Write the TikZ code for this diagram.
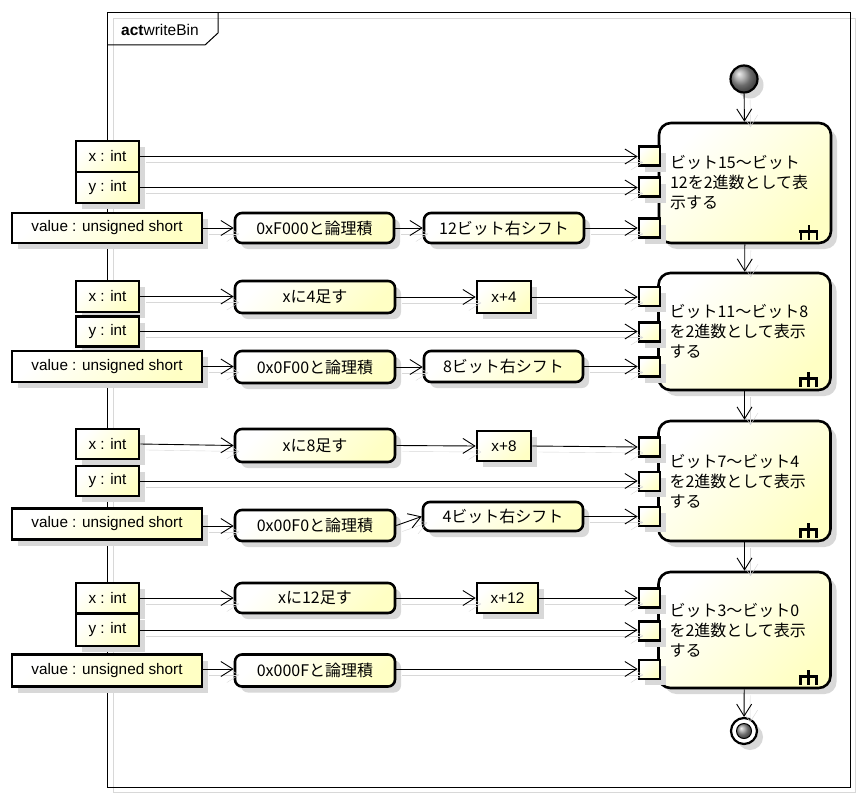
\documentclass[tikz,border=0pt]{standalone}
\usepackage{fontspec}
\setmainfont{Liberation Sans}
\newfontfamily\jp{Noto Sans CJK JP}
\usetikzlibrary{arrows.meta,shadows,calc}
\definecolor{ylw}{RGB}{255,255,196}
\definecolor{shd}{RGB}{216,216,216}
\newcommand{\bigtxt}[2]{\raisebox{#1pt}{\parbox{150pt}{\raggedright #2}}}
\tikzset{
  base/.style={draw=black, line width=2.6pt, top color=white, bottom color=ylw, shading angle=45,
    drop shadow={shadow xshift=6pt, shadow yshift=-6pt, fill=shd, opacity=1}, inner sep=0pt},
  obj/.style={base, rectangle, font=\fontsize{15.3}{17}\selectfont},
  actbox/.style={base, rectangle, rounded corners=7pt, font=\jp\fontsize{16}{18}\selectfont},
  bigact/.style={base, rectangle, rounded corners=12pt, minimum width=172pt, font=\jp\fontsize{16}{20}\selectfont},
  pinbox/.style={base, rectangle, minimum width=21pt, minimum height=19pt},
  flow/.style={line width=0.9pt, -{Straight Barb[length=12pt,width=15pt,line width=0.9pt]},
    preaction={draw=shd, transform canvas={shift={(6,6)}}}},
  rake/.style={line width=2.6pt}
}
\begin{document}
\begin{tikzpicture}[x=1pt,y=-1pt]
\useasboundingbox[fill=white] (0,0) rectangle (864,800);
% frame
\draw[shd, line width=1pt] (113,19) rectangle (855,792);
\draw[line width=1pt] (107,13) rectangle (850,787);
\draw[line width=1pt] (107,45) -- (205,45) -- (218,33) -- (218,13);
\node[anchor=west, inner sep=0pt, font=\fontsize{15.5}{17}\selectfont] (title) at (121,30) {\textbf{act}writeBin};

% initial / final
\node[circle, draw, line width=2.2pt, minimum size=27pt, inner sep=0pt, ball color=gray!80,
  drop shadow={shadow xshift=6pt, shadow yshift=-6pt, fill=shd, opacity=1}] (init) at (744,79) {};
\node[circle, draw, line width=2.2pt, minimum size=26pt, inner sep=0pt, fill=white,
  drop shadow={shadow xshift=6pt, shadow yshift=-6pt, fill=shd, opacity=1}] (fin) at (744,731) {};
\node[circle, draw, line width=1pt, minimum size=15pt, inner sep=0pt, ball color=gray!80] (finin) at (fin) {};

% big actions
\node[bigact, minimum height=120pt] (A1) at (745,183) {\bigtxt{8}{ビット15〜ビット\\12を2進数として表\\示する}};
\node[bigact, minimum height=117pt] (A2) at (744.5,331.5) {\bigtxt{11}{ビット11〜ビット8\\を2進数として表示\\する}};
\node[bigact, minimum height=120pt] (A3) at (744.5,481) {\bigtxt{12}{ビット7〜ビット4\\を2進数として表示\\する}};
\node[bigact, minimum height=116pt] (A4) at (744.5,630) {\bigtxt{11}{ビット3〜ビット0\\を2進数として表示\\する}};
\foreach \A in {A1,A2,A3,A4}{
  \draw[rake] ($(\A.south east)+(-33,-13)$) -- ($(\A.south east)+(-14,-13)$);
  \draw[rake] ($(\A.south east)+(-31.5,-13)$) -- ($(\A.south east)+(-31.5,-4)$);
  \draw[rake] ($(\A.south east)+(-15.5,-13)$) -- ($(\A.south east)+(-15.5,-4)$);
  \draw[rake] ($(\A.south east)+(-23.5,-19)$) -- ($(\A.south east)+(-23.5,-4)$);
}

% pins
\node[pinbox] (p11) at (649.5,156) {};
\node[pinbox] (p12) at (649.5,187) {};
\node[pinbox] (p13) at (649.5,228) {};
\node[pinbox] (p21) at (649.5,296.5) {};
\node[pinbox] (p22) at (649.5,332) {};
\node[pinbox] (p23) at (649.5,367) {};
\node[pinbox] (p31) at (649.5,447) {};
\node[pinbox] (p32) at (649.5,481.5) {};
\node[pinbox] (p33) at (649.5,516.5) {};
\node[pinbox] (p41) at (649.5,598) {};
\node[pinbox] (p42) at (649.5,631) {};
\node[pinbox] (p43) at (649.5,669.5) {};

% row 1
\node[obj, minimum width=63pt, minimum height=31pt] (x1) at (107.5,156.5) {x : int};
\node[obj, minimum width=63pt, minimum height=31pt] (y1) at (107.5,187.5) {y : int};
\node[obj, minimum width=190pt, minimum height=30pt] (v1) at (107,228) {value : unsigned short};
\node[actbox, minimum width=159pt, minimum height=30pt] (a1) at (314.5,228) {0xF000と論理積};
\node[actbox, minimum width=160pt, minimum height=30pt] (s1) at (504,228) {12ビット右シフト};

% row 2
\node[obj, minimum width=63pt, minimum height=31pt] (x2) at (107.5,296.5) {x : int};
\node[obj, minimum width=63pt, minimum height=30pt] (y2) at (107.5,331.5) {y : int};
\node[obj, minimum width=190pt, minimum height=31pt] (v2) at (107,366.5) {value : unsigned short};
\node[actbox, minimum width=160pt, minimum height=32pt] (b2) at (315,297) {xに4足す};
\node[obj, minimum width=54pt, minimum height=32pt] (o2) at (504,297) {x+4};
\node[actbox, minimum width=160pt, minimum height=32pt] (a2) at (315,367) {0x0F00と論理積};
\node[actbox, minimum width=159pt, minimum height=31pt] (s2) at (503.5,366.5) {8ビット右シフト};

% row 3
\node[obj, minimum width=63pt, minimum height=30pt] (x3) at (107.5,444) {x : int};
\node[obj, minimum width=63pt, minimum height=30pt] (y3) at (107.5,481) {y : int};
\node[obj, minimum width=190pt, minimum height=31pt] (v3) at (107,524) {value : unsigned short};
\node[actbox, minimum width=160pt, minimum height=33pt] (b3) at (315,445.5) {xに8足す};
\node[obj, minimum width=54pt, minimum height=30pt] (o3) at (504,446) {x+8};
\node[actbox, minimum width=160pt, minimum height=31pt] (a3) at (315,525.5) {0x00F0と論理積};
\node[actbox, minimum width=160pt, minimum height=29pt] (s3) at (503,516.5) {4ビット右シフト};

% row 4
\node[obj, minimum width=63pt, minimum height=30pt] (x4) at (107.5,598) {x : int};
\node[obj, minimum width=63pt, minimum height=32pt] (y4) at (107.5,630) {y : int};
\node[obj, minimum width=190pt, minimum height=32pt] (v4) at (107,670.5) {value : unsigned short};
\node[actbox, minimum width=160pt, minimum height=30pt] (b4) at (315,598) {xに12足す};
\node[obj, minimum width=61pt, minimum height=30pt] (o4) at (507.5,598) {x+12};
\node[actbox, minimum width=160pt, minimum height=32pt] (a4) at (315,670.5) {0x000Fと論理積};

% control flow
\draw[flow] (init) -- (A1);
\draw[flow] (A1) -- (A2);
\draw[flow] (A2) -- (A3);
\draw[flow] (A3) -- (A4);
\draw[flow] (A4) -- (fin);

% object flows row 1
\draw[flow] (x1.east) -- (x1.east -| p11.west);
\draw[flow] (y1.east) -- (y1.east -| p12.west);
\draw[flow] (v1.east) -- (v1.east -| a1.west);
\draw[flow] (a1.east) -- (a1.east -| s1.west);
\draw[flow] (s1.east) -- (s1.east -| p13.west);
% row 2
\draw[flow] (x2.east) -- (x2.east -| b2.west);
\draw[flow] (b2.east) -- (b2.east -| o2.west);
\draw[flow] (o2.east) -- (o2.east -| p21.west);
\draw[flow] (y2.east) -- (y2.east -| p22.west);
\draw[flow] (v2.east) -- (v2.east -| a2.west);
\draw[flow] (a2.east) -- (a2.east -| s2.west);
\draw[flow] (s2.east) -- (s2.east -| p23.west);
% row 3
\draw[flow] (x3.east) -- (b3.west);
\draw[flow] (b3.east) -- (o3.west);
\draw[flow] (o3.east) -- (p31.west);
\draw[flow] (y3.east) -- (y3.east -| p32.west);
\draw[flow] ([yshift=-2pt]v3.east) -- ([yshift=-2pt]v3.east -| a3.west);
\draw[flow] (a3.east) -- (s3.west);
\draw[flow] (s3.east) -- (p33.west);
% row 4
\draw[flow] (x4.east) -- (x4.east -| b4.west);
\draw[flow] (b4.east) -- (b4.east -| o4.west);
\draw[flow] (o4.east) -- (o4.east -| p41.west);
\draw[flow] (y4.east) -- (y4.east -| p42.west);
\draw[flow] ([yshift=1.5pt]v4.east) -- ([yshift=1.5pt]v4.east -| a4.west);
\draw[flow] ([yshift=1.5pt]a4.east) -- ([yshift=1.5pt]a4.east -| p43.west);
\end{tikzpicture}
\end{document}
